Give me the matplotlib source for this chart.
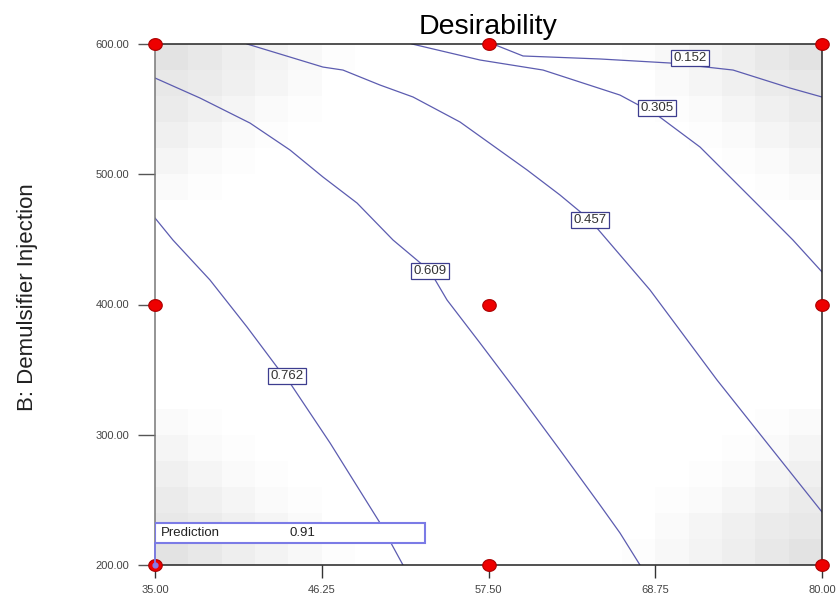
import numpy as np
import matplotlib
matplotlib.use('Agg')
import matplotlib.pyplot as plt

plt.rcParams['font.family'] = ['Liberation Sans', 'DejaVu Sans']

# Axis ticks
x_ticks = [35.00, 46.25, 57.50, 68.75, 80.00]
y_ticks = [200.00, 300.00, 400.00, 500.00, 600.00]

# Design points (A, B)
design_a = [35, 35, 35, 57.5, 57.5, 57.5, 80, 80, 80]
design_b = [200, 400, 600, 200, 400, 600, 200, 400, 600]

# Contour lines: (A, B) vertices
c152_a = [57.80, 59.83, 65.02, 69.75, 74.00, 77.84, 80.00]
c152_b = [600.0, 590.8, 588.5, 585.4, 580.0, 566.2, 559.3]
c305_a = [52.34, 56.93, 61.18, 66.37, 68.87, 71.77, 74.00, 75.82, 78.04, 80.00]
c305_b = [600.0, 587.7, 580.0, 560.8, 545.5, 520.9, 495.6, 474.9, 449.5, 425.0]
c457_a = [41.21, 46.33, 47.68, 50.18, 52.41, 55.58, 60.10, 62.32, 64.35, 68.40, 72.92, 76.29, 80.00]
c457_b = [600.0, 582.3, 580.0, 568.5, 559.3, 540.1, 503.3, 484.1, 464.9, 411.1, 342.0, 293.7, 240.7]
c609_a = [35.00, 38.04, 41.41, 44.11, 46.33, 48.63, 51.06, 53.55, 54.70, 56.93, 59.83, 62.32, 65.02, 66.37, 67.72]
c609_b = [573.9, 558.5, 539.3, 518.6, 497.9, 477.9, 449.5, 425.7, 403.5, 370.4, 326.7, 288.3, 246.1, 224.6, 200.0]
c762_a = [35.00, 36.21, 38.71, 41.21, 43.23, 44.11, 46.81, 50.18, 51.73]
c762_b = [466.4, 449.5, 418.8, 382.7, 352.0, 339.7, 293.7, 232.3, 200.0]

contours = [
    ("0.152", c152_a, c152_b, (71.09, 589.3)),
    ("0.305", c305_a, c305_b, (68.87, 550.9)),
    ("0.457", c457_a, c457_b, (64.35, 464.9)),
    ("0.609", c609_a, c609_b, (53.55, 425.7)),
    ("0.762", c762_a, c762_b, (43.91, 345.1)),
]

# Grey shading in the top-left corner (cells from the corner), mirrored to the others
corner_shade = np.array([
    [0.89, 0.91, 0.93, 0.95, 0.97, 0.99],
    [0.91, 0.92, 0.94, 0.96, 0.98, 1.00],
    [0.92, 0.94, 0.96, 0.98, 0.99, 1.00],
    [0.94, 0.96, 0.98, 0.99, 1.00, 1.00],
    [0.96, 0.98, 0.99, 1.00, 1.00, 1.00],
    [0.98, 0.99, 1.00, 1.00, 1.00, 1.00],
])

prediction_value = "0.91"
prediction_point = (35, 200)

# shade grid (rows from bottom)
n = 20
shade = np.ones((n, n))
k = corner_shade.shape[0]
shade[n - k:, :k] = np.minimum(shade[n - k:, :k], corner_shade[::-1, :])          # top-left
shade[:k, :k] = np.minimum(shade[:k, :k], corner_shade)                           # bottom-left
shade[n - k:, n - k:] = np.minimum(shade[n - k:, n - k:], corner_shade[::-1, ::-1])  # top-right
shade[:k, n - k:] = np.minimum(shade[:k, n - k:], corner_shade[:, ::-1])          # bottom-right

fig = plt.figure(figsize=(8.36, 5.98), dpi=100)
ax = fig.add_axes([155 / 836, 1 - 565 / 598, 667 / 836, 521 / 598])

xe = np.linspace(35, 80, n + 1)
ye = np.linspace(200, 600, n + 1)
ax.pcolormesh(xe, ye, shade, cmap='gray', vmin=0, vmax=1, shading='flat', zorder=0)

line_color = '#5c5cb0'
for lab, xs, ys, pos in contours:
    ax.plot(xs, ys, color=line_color, lw=0.9, zorder=2)
    ax.text(pos[0], pos[1], lab, fontsize=9.5, color='#333333', ha='center', va='center', zorder=4,
            bbox=dict(boxstyle='square,pad=0.18', fc='white', ec='#3d3d8f', lw=0.9))

# design points, drawn as slightly wide ellipses
t = np.linspace(0, 2 * np.pi, 40)
ellipse = np.column_stack([1.15 * np.cos(t), np.sin(t)])
ax.scatter(design_a, design_b, s=95, marker=ellipse, color='#ee0000', edgecolors='#aa0000',
           linewidths=0.8, zorder=5, clip_on=False)

# prediction flag
px, py = prediction_point
ax.plot([px, px], [py, 217], color='#7b7be6', lw=1.3, zorder=6, clip_on=False)
ax.scatter([px], [py], s=12, color='#8a7be6', zorder=7, clip_on=False)
ax.add_patch(plt.Rectangle((35, 217), 18.2, 15.3, fc='white', ec='#7b7be6', lw=1.5, zorder=6))
ax.text(35.4, 224.6, "Prediction", fontsize=9.5, color='#222222', va='center', zorder=7)
ax.text(44.1, 224.6, prediction_value, fontsize=9.5, color='#222222', va='center', zorder=7)

ax.set_xlim(35, 80)
ax.set_ylim(200, 600)
ax.set_xticks(x_ticks)
ax.set_yticks(y_ticks)
ax.set_xticklabels([f"{v:.2f}" for v in x_ticks])
ax.set_yticklabels([f"{v:.2f}" for v in y_ticks])
ax.tick_params(axis='x', length=9.5, width=1, pad=5, labelsize=8, colors='#333333', labelcolor='#444444')
ax.tick_params(axis='y', length=12.5, width=1, pad=6, labelsize=8, colors='#555555', labelcolor='#444444')

for side in ['top', 'right', 'bottom']:
    ax.spines[side].set_color('#222222')
ax.spines['left'].set_color('#777777')
for s in ax.spines.values():
    s.set_linewidth(1.1)

ax.set_title("Desirability", fontsize=20.5, pad=7)
ax.set_ylabel("B: Demulsifier Injection", fontsize=16, color='#222222')
ax.yaxis.set_label_coords(-0.175, 0.514)

fig.savefig('out.png', dpi=100)
